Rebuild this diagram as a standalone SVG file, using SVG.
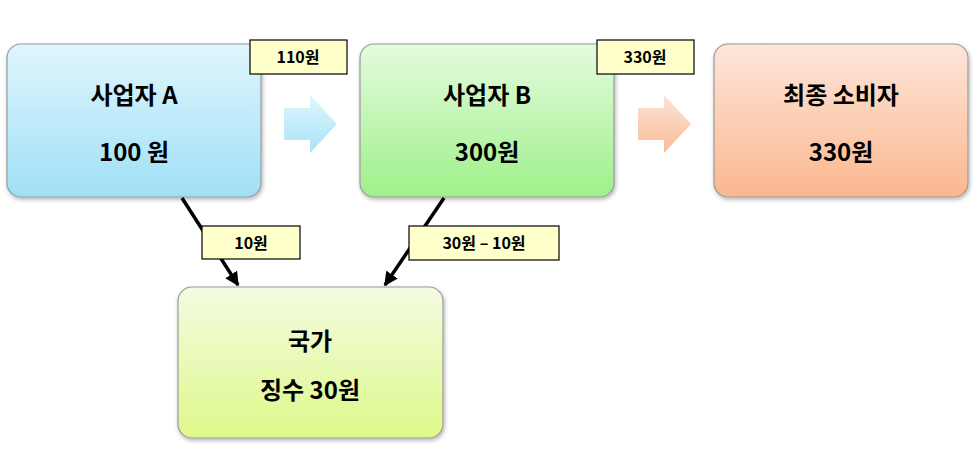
<svg xmlns="http://www.w3.org/2000/svg" width="974" height="455" viewBox="0 0 974 455">
<defs>
<linearGradient id="gA" x1="0" y1="0" x2="0" y2="1"><stop offset="0" stop-color="#dff6fd"/><stop offset="1" stop-color="#9fe0f7"/></linearGradient>
<linearGradient id="gB" x1="0" y1="0" x2="0" y2="1"><stop offset="0" stop-color="#e4fbde"/><stop offset="1" stop-color="#9ef08a"/></linearGradient>
<linearGradient id="gC" x1="0" y1="0" x2="0" y2="1"><stop offset="0" stop-color="#fde6da"/><stop offset="1" stop-color="#fbb78e"/></linearGradient>
<linearGradient id="gD" x1="0" y1="0" x2="0" y2="1"><stop offset="0" stop-color="#f3fbe2"/><stop offset="1" stop-color="#def98a"/></linearGradient>
<linearGradient id="gAr1" x1="0" y1="0" x2="0" y2="1"><stop offset="0" stop-color="#e2f6fd"/><stop offset="1" stop-color="#a8e2f7"/></linearGradient>
<linearGradient id="gAr2" x1="0" y1="0" x2="0" y2="1"><stop offset="0" stop-color="#fde4d6"/><stop offset="1" stop-color="#f9bc98"/></linearGradient>
<filter id="sh" x="-10%" y="-10%" width="120%" height="130%"><feDropShadow dx="1" dy="2" stdDeviation="2" flood-color="#000" flood-opacity="0.3"/></filter>
<marker id="ah" viewBox="0 0 10 10" refX="9" refY="5" markerWidth="4" markerHeight="4" orient="auto"><path d="M0,0 L10,5 L0,10 z" fill="#000"/></marker>
</defs>
<style>
.n{stroke:#9a9a9a;stroke-width:1.2;filter:url(#sh)}
.t{font-family:"Noto Sans CJK KR",sans-serif;font-weight:bold;font-size:24px;fill:#000;text-anchor:middle}
.lb{fill:#ffffcc;stroke:#000;stroke-width:1.2}
.lt{font-family:"Noto Sans CJK KR",sans-serif;font-weight:bold;font-size:16px;fill:#000;text-anchor:middle}
.c{stroke:#000;stroke-width:3.5;fill:none;marker-end:url(#ah)}
</style>
<g id="blockarrows">
<path d="M284,108 H310 V95 L337,124 L310,153 V140 H284 Z" fill="url(#gAr1)"/>
<path d="M638,108 H664 V95 L691,124 L664,153 V140 H638 Z" fill="url(#gAr2)"/>
</g>
<g id="nodeA"><rect class="n" x="7" y="44" width="254" height="153" rx="14" fill="url(#gA)"/>
<text class="t" x="134" y="104">사업자 A</text><text class="t" x="134" y="161">100 원</text></g>
<g id="nodeB"><rect class="n" x="360" y="44" width="254" height="153" rx="14" fill="url(#gB)"/>
<text class="t" x="487" y="104">사업자 B</text><text class="t" x="487" y="161">300원</text></g>
<g id="nodeC"><rect class="n" x="714" y="44" width="254" height="153" rx="14" fill="url(#gC)"/>
<text class="t" x="841" y="104">최종 소비자</text><text class="t" x="841" y="161">330원</text></g>
<g id="nodeD"><rect class="n" x="178" y="287" width="265" height="151" rx="14" fill="url(#gD)"/>
<text class="t" x="310" y="350">국가</text><text class="t" x="310" y="399">징수 30원</text></g>
<g id="connectors">
<path class="c" d="M182,198 L238,285"/>
<path class="c" d="M444,198 L385,285"/>
</g>
<g id="labels">
<rect class="lb" x="250" y="40" width="97" height="34"/><text class="lt" x="298" y="63">110원</text>
<rect class="lb" x="597" y="40" width="97" height="34"/><text class="lt" x="645" y="63">330원</text>
<rect class="lb" x="202" y="226" width="98" height="33"/><text class="lt" x="251" y="249">10원</text>
<rect class="lb" x="409" y="226" width="150" height="34"/><text class="lt" x="484" y="249">30원 – 10원</text>
</g>
</svg>
